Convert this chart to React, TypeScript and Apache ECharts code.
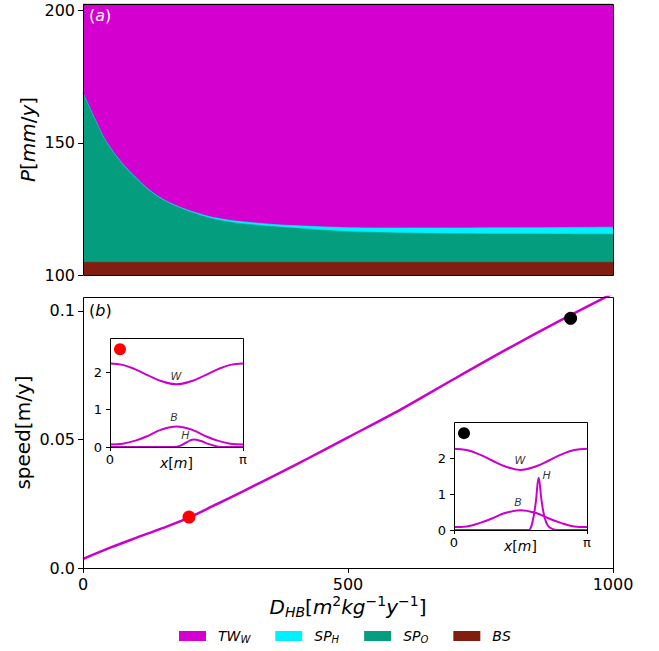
import React, { useEffect, useRef } from 'react';
import * as echarts from 'echarts';

// ---------- data ----------
// Panel (a): region boundaries vs D_HB
const D_TOP = [0, 20, 40, 60, 80, 100, 120, 140, 160, 180, 200, 240, 280, 320, 360, 420, 500, 600, 700, 850, 1000];
const SPO_TOP = [168.6, 159.8, 151.5, 145.5, 140.6, 136.5, 132.7, 129.7, 127.4, 125.6, 124.0, 121.5, 119.9, 119.0, 118.3, 117.4, 116.4, 115.9, 115.6, 115.5, 115.4];
const SPH_TOP = [168.9, 160.1, 151.8, 145.8, 140.9, 136.8, 133.0, 130.0, 127.7, 125.9, 124.4, 122.0, 120.6, 119.8, 119.1, 118.5, 117.9, 117.8, 117.8, 117.9, 118.1];
const BS_LEVEL = 104.8;
const P_CEIL = 210;

// Panel (b): speed vs D_HB
const D_LINE = [0, 50, 100, 150, 200, 250, 300, 350, 400, 450, 500, 600, 700, 800, 900, 1000];
const SPEED = [0.0035, 0.0078, 0.0117, 0.0155, 0.0196, 0.0246, 0.0296, 0.0348, 0.04, 0.0454, 0.0508, 0.0617, 0.0735, 0.0851, 0.0962, 0.1068];
const RED_PT = [200, 0.0198];
const BLACK_PT = [920, 0.0971];

// Insets
const INSET_X = [0, 0.3, 0.6, 0.9, 1.2, 1.5708, 1.94, 2.24, 2.54, 2.84, 3.1416];
const W1 = [2.24, 2.2, 2.08, 1.92, 1.77, 1.68, 1.77, 1.92, 2.08, 2.2, 2.24];
const B1 = [0.07, 0.09, 0.17, 0.3, 0.46, 0.55, 0.46, 0.3, 0.17, 0.09, 0.07];
const H1_X = [0, 1.5, 1.65, 1.8, 1.97, 2.15, 2.3, 2.45, 2.6, 3.1416];
const H1 = [0, 0, 0.03, 0.12, 0.2, 0.16, 0.09, 0.04, 0, 0];
const W2 = [2.26, 2.22, 2.1, 1.93, 1.77, 1.67, 1.77, 1.93, 2.1, 2.22, 2.26];
const B2 = [0.08, 0.1, 0.19, 0.32, 0.47, 0.55, 0.47, 0.32, 0.19, 0.1, 0.08];
const H2_X = [0, 1.75, 1.8, 1.86, 1.93, 2.0, 2.07, 2.14, 2.22, 2.32, 2.45, 3.1416];
const H2 = [0, 0, 0.03, 0.25, 0.75, 1.45, 0.8, 0.35, 0.12, 0.03, 0, 0];
const INSET1_DOT = [0.236, 2.62];
const INSET2_DOT = [0.236, 2.69];
const INSET1_LABELS = [
  { name: 'W', value: [1.555, 1.9] },
  { name: 'B', value: [1.515, 0.78] },
  { name: 'H', value: [1.78, 0.31] },
];
const INSET2_LABELS = [
  { name: 'W', value: [1.56, 1.92] },
  { name: 'H', value: [2.19, 1.51] },
  { name: 'B', value: [1.51, 0.76] },
];

const LEGEND_NAMES = ['TW_W', 'SP_H', 'SP_O', 'BS'];
const LEGEND_LABEL: Record<string, string> = {
  TW_W: '{i|TW}{s|W}',
  SP_H: '{i|SP}{s|H}',
  SP_O: '{i|SP}{s|O}',
  BS: '{i|BS}',
};

// ---------- styles ----------
const FONT = 'DejaVu Sans';
const C_TW = '#d400d0';
const C_SPH = '#00f0ff';
const C_SPO = '#049e7e';
const C_BS = '#821e10';
const LINE_C = '#cc00cc';

const GRIDS = [
  { left: 83, top: 4, width: 530, height: 271 },
  { left: 83, top: 297, width: 530, height: 271 },
  { left: 110, top: 338, width: 133, height: 109 },
  { left: 454, top: 422, width: 133, height: 108 },
];

const zip = (xs: number[], ys: number[]) => xs.map((x, i) => [x, ys[i]]);

export default function App() {
  const ref = useRef<HTMLDivElement>(null);
  useEffect(() => {
    document.body.style.margin = '0';
    const chart = echarts.init(ref.current!, null, { renderer: 'svg' });

    const tickLbl = { fontFamily: FONT, fontSize: 16, color: '#000' };
    const insetLbl = { fontFamily: FONT, fontSize: 13, color: '#000' };
    const italic = (size: number) => ({ fontFamily: FONT, fontStyle: 'italic', fontSize: size, color: '#000' });

    // each region is filled from its upper boundary down to the axis bottom; lower regions drawn on top
    const areaSeries = (name: string, color: string, vals: number[], z: number) => ({
      name,
      type: 'line',
      xAxisIndex: 0,
      yAxisIndex: 0,
      data: zip(D_TOP, vals),
      smooth: 0.25,
      symbol: 'none',
      color,
      itemStyle: { color },
      lineStyle: { width: 0.6, color },
      areaStyle: { color, opacity: 1, origin: 'start' },
      z,
    });

    const insetLine = (xi: number, xs: number[], ys: number[]) => ({
      type: 'line',
      xAxisIndex: xi,
      yAxisIndex: xi,
      data: zip(xs, ys),
      smooth: 0.4,
      symbol: 'none',
      lineStyle: { width: 2, color: LINE_C },
      z: 5,
    });

    const labelSeries = (xi: number, items: any[]) => ({
      type: 'scatter',
      xAxisIndex: xi,
      yAxisIndex: xi,
      symbolSize: 0,
      data: items,
      label: {
        show: true,
        position: 'inside',
        formatter: (p: any) => p.name,
        ...italic(11),
      },
      z: 6,
    });

    const insetX = (gi: number) => ({
      type: 'value',
      gridIndex: gi,
      min: 0,
      max: Math.PI,
      name: '{i|x}[{i|m}]',
      nameLocation: 'middle',
      nameGap: 9,
      nameMoveOverlap: false,
      nameTextStyle: { ...insetLbl, fontSize: 14, rich: { i: italic(14) } },
      axisLine: { show: false },
      axisTick: { show: true, length: 4, customValues: [0, Math.PI], lineStyle: { color: '#000' } },
      axisLabel: {
        ...insetLbl,
        margin: 6,
        customValues: [0, Math.PI],
        formatter: (v: number) => (v < 1 ? '0' : 'π'),
      },
      splitLine: { show: false },
    });

    const insetY = (gi: number, max: number) => ({
      type: 'value',
      gridIndex: gi,
      min: 0,
      max,
      axisLine: { show: false },
      axisTick: { show: true, length: 4, customValues: [0, 1, 2], lineStyle: { color: '#000' } },
      axisLabel: { ...insetLbl, margin: 8, customValues: [0, 1, 2], formatter: (v: number) => String(v) },
      splitLine: { show: false },
    });

    const frames = GRIDS.map((g) => ({
      type: 'rect',
      shape: { x: g.left + 0.5, y: g.top + 0.5, width: g.width, height: g.height },
      style: { fill: 'none', stroke: '#000', lineWidth: 1 },
      z: 100,
      silent: true,
    }));

    const option: any = {
      animation: false,
      textStyle: { fontFamily: FONT },
      grid: GRIDS.map((g, i) => ({
        ...g,
        show: i >= 2,
        backgroundColor: '#fff',
        borderWidth: 0,
        z: i >= 2 ? 4 : 0,
      })),
      legend: {
        data: LEGEND_NAMES,
        left: 179,
        top: 629,
        padding: 0,
        icon: 'rect',
        itemWidth: 27,
        itemHeight: 10,
        itemGap: 25,
        selectedMode: false,
        itemStyle: { borderWidth: 0 },
        formatter: (name: string) => LEGEND_LABEL[name],
        textStyle: {
          ...italic(14),
          padding: [0, 0, 0, 7],
          rich: {
            i: italic(14),
            s: { ...italic(10), padding: [7, 0, 0, 0] },
          },
        },
      },
      xAxis: [
        {
          type: 'value',
          gridIndex: 0,
          min: 0,
          max: 1000,
          interval: 500,
          axisLine: { show: false },
          axisTick: { show: false },
          axisLabel: { show: false },
          splitLine: { show: false },
        },
        {
          type: 'value',
          gridIndex: 1,
          min: 0,
          max: 1000,
          interval: 500,
          name: '{i|D}{sub|HB}[{i|m}{sup|2}{i|kg}{sup|−1}{i|y}{sup|−1}]',
          nameLocation: 'middle',
          nameGap: 26,
          nameTextStyle: {
            fontFamily: FONT,
            fontSize: 20,
            color: '#000',
            rich: {
              i: italic(20),
              sub: { ...italic(14), padding: [10, 0, 0, 0] },
              sup: { fontFamily: FONT, fontSize: 14, color: '#000', padding: [0, 0, 12, 0] },
            },
          },
          axisLine: { show: false },
          axisTick: { show: true, length: 5, lineStyle: { color: '#000' } },
          axisLabel: { ...tickLbl, margin: 8, formatter: (v: number) => String(v) },
          splitLine: { show: false },
        },
        insetX(2),
        insetX(3),
      ],
      yAxis: [
        {
          type: 'value',
          gridIndex: 0,
          min: 100,
          max: 202.5,
          name: '{i|P}[{i|mm}/{i|y}]',
          nameLocation: 'middle',
          nameGap: 45,
          nameMoveOverlap: false,
          nameTextStyle: { fontFamily: FONT, fontSize: 20, color: '#000', rich: { i: italic(20) } },
          axisLine: { show: false },
          axisTick: { show: true, length: 5, customValues: [100, 150, 200], lineStyle: { color: '#000' } },
          axisLabel: { ...tickLbl, margin: 8, customValues: [100, 150, 200], formatter: (v: number) => String(v) },
          splitLine: { show: false },
        },
        {
          type: 'value',
          gridIndex: 1,
          min: 0,
          max: 0.1054,
          name: 'speed[m/y]',
          nameLocation: 'middle',
          nameGap: 50,
          nameMoveOverlap: false,
          nameTextStyle: { fontFamily: FONT, fontSize: 20, color: '#000' },
          axisLine: { show: false },
          axisTick: { show: true, length: 5, customValues: [0, 0.05, 0.1], lineStyle: { color: '#000' } },
          axisLabel: {
            ...tickLbl,
            margin: 8,
            customValues: [0, 0.05, 0.1],
            formatter: (v: number) => (v === 0 ? '0.0' : String(+v.toFixed(2))),
          },
          splitLine: { show: false },
        },
        insetY(2, 2.92),
        insetY(3, 3.0),
      ],
      graphic: [
        ...frames,
        {
          type: 'text',
          left: 89,
          top: 7,
          z: 101,
          style: {
            text: '({i|a})',
            fill: '#fff',
            font: `16px "${FONT}"`,
            rich: { i: { fontFamily: FONT, fontStyle: 'italic', fontSize: 16, fill: '#fff' } },
          },
        },
        {
          type: 'text',
          left: 89,
          top: 302,
          z: 101,
          style: {
            text: '({i|b})',
            fill: '#000',
            font: `16px "${FONT}"`,
            rich: { i: { fontFamily: FONT, fontStyle: 'italic', fontSize: 16, fill: '#000' } },
          },
        },
      ],
      series: [
        areaSeries('TW_W', C_TW, D_TOP.map(() => P_CEIL), 1),
        areaSeries('SP_H', C_SPH, SPH_TOP, 2),
        areaSeries('SP_O', C_SPO, SPO_TOP, 3),
        areaSeries('BS', C_BS, D_TOP.map(() => BS_LEVEL), 4),
        {
          type: 'line',
          xAxisIndex: 1,
          yAxisIndex: 1,
          data: zip(D_LINE, SPEED),
          smooth: 0.3,
          symbol: 'none',
          lineStyle: { width: 2.5, color: LINE_C },
          z: 3,
        },
        {
          type: 'scatter',
          xAxisIndex: 1,
          yAxisIndex: 1,
          symbolSize: 13,
          data: [RED_PT],
          itemStyle: { color: '#ff0000', opacity: 1 },
          z: 4,
        },
        {
          type: 'scatter',
          xAxisIndex: 1,
          yAxisIndex: 1,
          symbolSize: 13,
          data: [BLACK_PT],
          itemStyle: { color: '#000', opacity: 1 },
          z: 4,
        },
        insetLine(2, INSET_X, W1),
        insetLine(2, INSET_X, B1),
        insetLine(2, H1_X, H1),
        {
          type: 'scatter',
          xAxisIndex: 2,
          yAxisIndex: 2,
          symbolSize: 12,
          data: [INSET1_DOT],
          itemStyle: { color: '#ff0000', opacity: 1 },
          z: 6,
        },
        labelSeries(2, INSET1_LABELS),
        insetLine(3, INSET_X, W2),
        insetLine(3, INSET_X, B2),
        insetLine(3, H2_X, H2),
        {
          type: 'scatter',
          xAxisIndex: 3,
          yAxisIndex: 3,
          symbolSize: 12,
          data: [INSET2_DOT],
          itemStyle: { color: '#000', opacity: 1 },
          z: 6,
        },
        labelSeries(3, INSET2_LABELS),
      ],
    };

    chart.setOption(option);
    return () => chart.dispose();
  }, []);
  return <div ref={ref} style={{ width: 659, height: 651 }} />;
}
